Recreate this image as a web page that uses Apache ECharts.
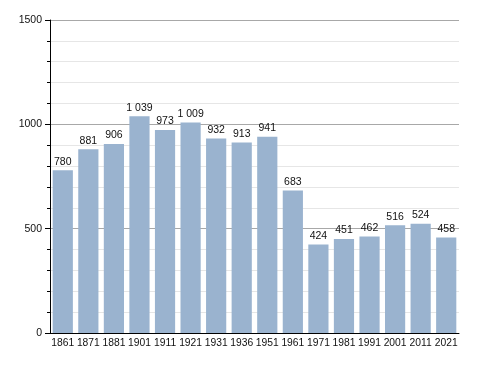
<!DOCTYPE html>
<html><head><meta charset="utf-8">
<script src="https://cdn.jsdelivr.net/npm/echarts@6/dist/echarts.min.js"></script>
<style>html,body{margin:0;padding:0;background:#fff}#c{width:488px;height:373px}</style>
</head><body><div id="c"></div>
<script>
const years = ['1861','1871','1881','1901','1911','1921','1931','1936','1951','1961','1971','1981','1991','2001','2011','2021'];
const population = [780,881,906,1039,973,1009,932,913,941,683,424,451,462,516,524,458];
const yTicks = [0,500,1000,1500];

function fmt(v){ return String(v).replace(/\B(?=(\d{3})+(?!\d))/g,' '); }

const FONT = 'Liberation Sans, Arial, sans-serif';
const chart = echarts.init(document.getElementById('c'), null, {renderer:'canvas'});
chart.setOption({
  animation:false,
  grid:{left:50,right:29,top:20,bottom:40,containLabel:false},
  xAxis:{
    type:'category', data:years,
    axisLine:{lineStyle:{color:'#000',width:1}},
    axisTick:{show:false},
    axisLabel:{color:'#111',fontFamily:FONT,fontSize:10.3,margin:5,interval:0}
  },
  yAxis:{
    type:'value', min:yTicks[0], max:yTicks[yTicks.length-1], interval:500,
    axisLine:{show:true,lineStyle:{color:'#000',width:1}},
    axisTick:{show:true,length:5,lineStyle:{color:'#000'}},
    minorTick:{show:true,splitNumber:5,length:3,lineStyle:{color:'#000'}},
    splitLine:{show:true,lineStyle:{color:'#a8a8a8',width:1}},
    minorSplitLine:{show:true,lineStyle:{color:'#e6e6e6',width:1}},
    axisLabel:{color:'#111',fontFamily:FONT,fontSize:10.5,margin:8,formatter:v=>String(v)}
  },
  series:[{
    type:'bar', data:population, barCategoryGap:'21%',
    itemStyle:{color:'#9ab3cf'},
    label:{show:true,position:'top',distance:3,color:'#111',
      fontFamily:FONT,fontSize:10.5,
      formatter:p=>fmt(p.value)}
  }]
});
</script></body></html>
